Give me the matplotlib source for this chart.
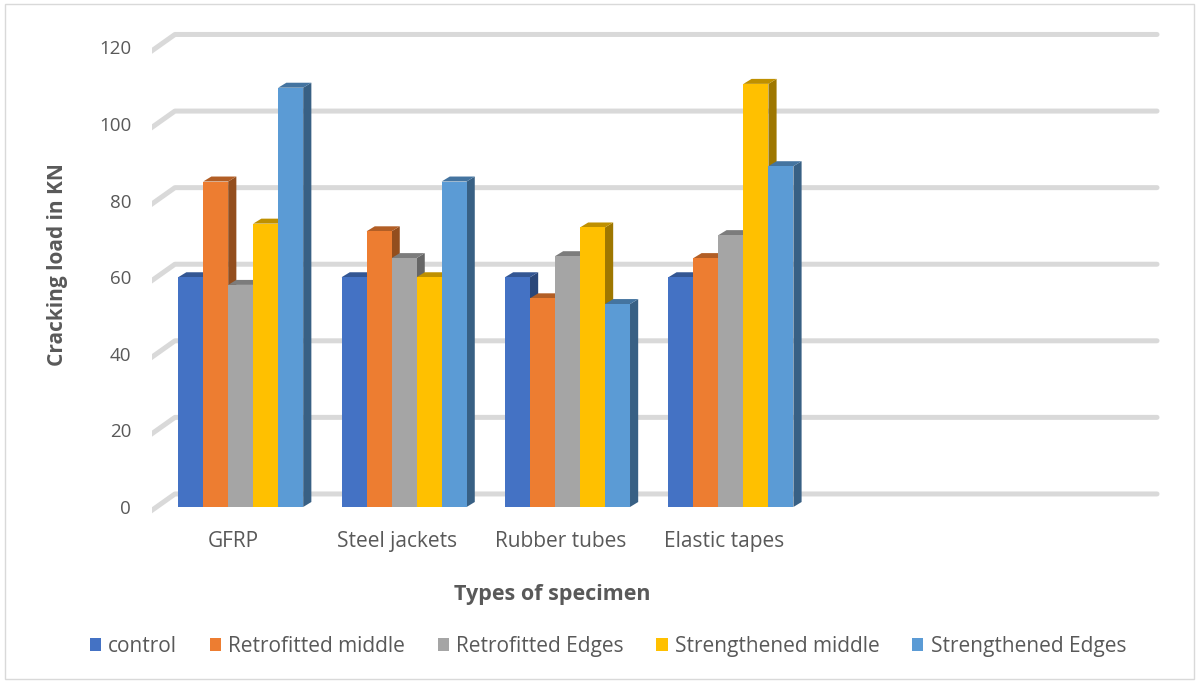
import matplotlib.pyplot as plt
from matplotlib.patches import Patch
from matplotlib.colors import to_rgb

plt.rcParams['font.family'] = ['Open Sans', 'DejaVu Sans']

categories = ['GFRP', 'Steel jackets', 'Rubber tubes', 'Elastic tapes', '', '']
series = ['control', 'Retrofitted middle', 'Retrofitted Edges',
          'Strengthened middle', 'Strengthened Edges']
values = [
    [60, 60, 60, 60],      # control
    [85, 72, 54.5, 65],    # Retrofitted middle
    [58, 65, 65.5, 71],    # Retrofitted Edges
    [74, 60, 73, 110.5],   # Strengthened middle
    [109.5, 85, 53, 89],   # Strengthened Edges
]
colors = ['#4472C4', '#ED7D31', '#A5A5A5', '#FFC000', '#5B9BD5']
yticks = [0, 20, 40, 60, 80, 100, 120]


def shade(c, f):
    r, g, b = to_rgb(c)
    return (r * f, g * f, b * f)


fig = plt.figure(figsize=(11.99, 6.83), dpi=100)
ax = fig.add_axes([0.1268, 0.2465, 0.845, 0.712])
ax.set_xlim(0, 6.2)
ax.set_ylim(-2, 125)

# back wall gridlines with the slanted floor-to-wall segment
wall_dx, wall_dy = 0.14, 3.4
for v in yticks:
    ax.plot([-0.012, wall_dx, 6.15], [v - 1.2, v + wall_dy, v + wall_dy],
            color='#D9D9D9', lw=3.6, solid_capstyle='round',
            solid_joinstyle='round', zorder=0)

# pseudo-3D columns: front face, top and right side
width, gap0 = 0.153, 0.16
ddx, ddy = 0.05, 1.3
for i in range(4):
    for j, s in enumerate(series):
        v = values[j][i]
        left = i + gap0 + j * width
        right = left + width
        z = 2 + i * 10 + j
        ax.fill([right, right + ddx, right + ddx, right],
                [0, ddy, v + ddy, v], color=shade(colors[j], 0.62),
                lw=0, zorder=z)
        ax.fill([left, right, right + ddx, left + ddx],
                [v, v, v + ddy, v + ddy], color=shade(colors[j], 0.75),
                lw=0, zorder=z)
        ax.bar(left, v, width=width, align='edge', color=colors[j],
               lw=0, zorder=z + 0.5)

for sp in ax.spines.values():
    sp.set_visible(False)
ax.set_yticks(yticks)
ax.set_yticklabels([str(t) for t in yticks], color='#595959', fontsize=13.5)
ax.set_xticks([i + 0.5 for i in range(len(categories))])
ax.set_xticklabels(categories, color='#595959', fontsize=15)
ax.tick_params(axis='both', length=0)
ax.tick_params(axis='y', pad=15)
ax.tick_params(axis='x', pad=12)

fig.text(0.048, 0.612, 'Cracking load in KN', rotation=90, ha='center',
         va='center', fontsize=15, fontweight='bold', color='#595959')
fig.text(0.461, 0.130, 'Types of specimen', ha='center', va='center',
         fontsize=15.5, fontweight='bold', color='#595959')

handles = [Patch(facecolor=c, edgecolor='none') for c in colors]
fig.legend(handles, series, loc='center', bbox_to_anchor=(0.507, 0.054),
           ncol=5, frameon=False, fontsize=15, handlelength=0.55,
           handleheight=0.55, handletextpad=0.35, columnspacing=1.55,
           labelcolor='#595959')

# thin outer frame
fig.patches.append(plt.Rectangle((0.004, 0.006), 0.992, 0.988,
                                 transform=fig.transFigure, fill=False,
                                 edgecolor='#D9D9D9', lw=1))

fig.savefig('out.png', dpi=100)
